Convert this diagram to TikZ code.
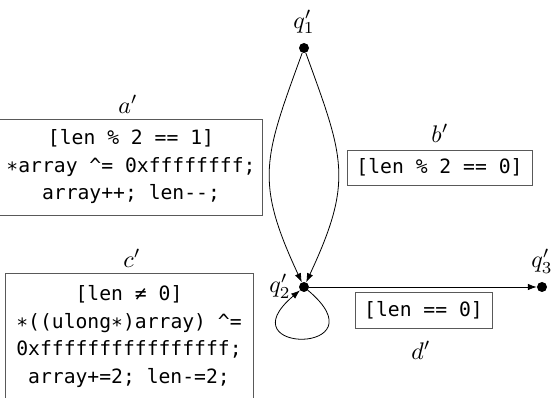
\documentclass[tikz,border=0pt]{standalone}
\usepackage{fontspec}
\newfontfamily\codefont{DejaVu Sans Mono}
\usetikzlibrary{arrows.meta}
\newcommand{\lowstar}{\raisebox{-0.22em}{*}}
\newcommand{\biglbl}[1]{\scalebox{2.4}{$#1$}}
\begin{document}
\begin{tikzpicture}[x=1pt,y=-1pt,
  state/.style={circle,fill=black,inner sep=0pt,minimum size=10pt},
  lbl/.style={inner sep=0pt},
  code/.style={draw=black!65,line width=0.9pt,inner sep=0pt,align=center,
    font=\codefont\fontsize{19.7}{27.5}\selectfont},
  trans/.style={line width=0.8pt,-{Latex[length=9pt,width=6.5pt]}}]
\useasboundingbox (0,0) rectangle (552,398);
\node[state] (q1) at (304,48) {};
\node[state] (q2) at (304,287) {};
\node[state] (q3) at (542,287) {};
\node[lbl] (lq1) at (304,22) {\biglbl{q'_1}};
\node[lbl] (lq2) at (280,286) {\biglbl{q'_2}};
\node[lbl] (lq3) at (542,261) {\biglbl{q'_3}};
\draw[trans] (q1) to[out=250,in=115,looseness=1.25] (q2);
\draw[trans] (q1) to[out=290,in=65,looseness=1.25] (q2);
\draw[trans] (q2) to[out=-40,in=-140,distance=100pt] (q2);
\draw[trans] (q2) -- (q3);
\node[code,minimum width=263pt,minimum height=96pt] (a) at (131,167)
  {[len \% 2 == 1]\\\lowstar array \textasciicircum= 0xffffffff;\\array++; len-{}-;};
\node[lbl] (la) at (128,104) {\biglbl{a'}};
\node[code,minimum width=185pt,minimum height=35pt] (b) at (439.5,167.5)
  {[len \% 2 == 0]};
\node[lbl] (lb) at (440,133) {\biglbl{b'}};
\node[code,minimum width=248pt,minimum height=127pt] (c) at (129,336.5)
  {[len ≠ 0]\\\lowstar((ulong\lowstar)array) \textasciicircum=\\0xffffffffffffffff;\\array+=2; len-=2;};
\node[lbl] (lc) at (132,258) {\biglbl{c'}};
\node[code,minimum width=137pt,minimum height=36pt] (d) at (423.5,310)
  {[len == 0]};
\node[lbl] (ld) at (421,350) {\biglbl{d'}};
\end{tikzpicture}
\end{document}
